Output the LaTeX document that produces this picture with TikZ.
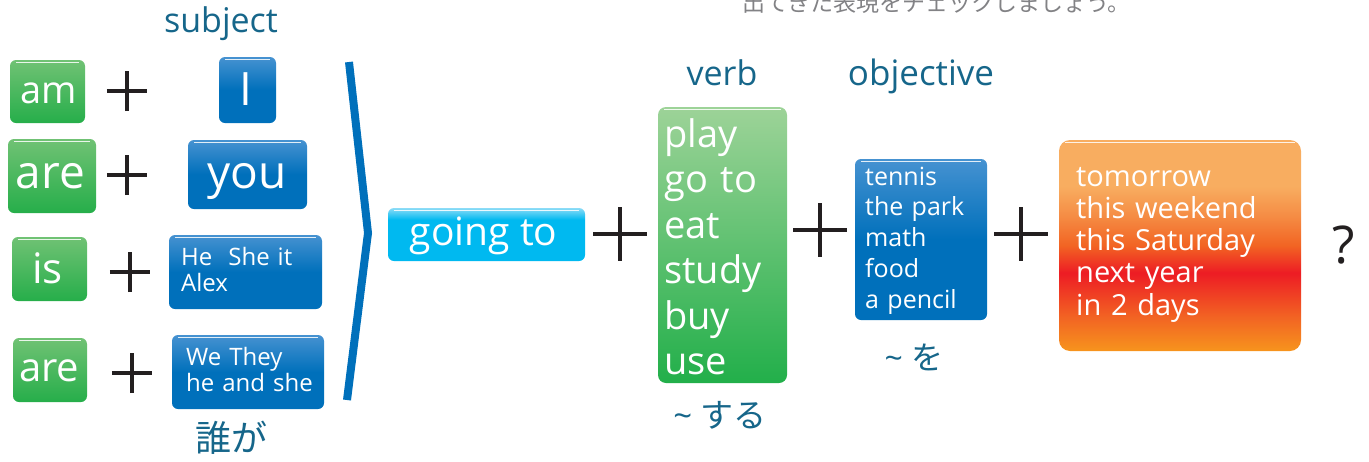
\documentclass[tikz,border=0pt]{standalone}
\usepackage{fontspec}
\setmainfont{Open Sans}
\newfontfamily\jp{Noto Sans CJK JP}
\usetikzlibrary{shapes.misc}
\definecolor{gTop}{RGB}{112,194,116}
\definecolor{gBot}{RGB}{38,174,74}
\definecolor{vTop}{RGB}{157,211,152}
\definecolor{vBot}{RGB}{34,175,74}
\definecolor{bTop}{RGB}{70,146,209}
\definecolor{bBot}{RGB}{0,112,187}
\definecolor{cyTop}{RGB}{140,220,247}
\definecolor{cyMain}{RGB}{0,185,240}
\definecolor{oTop}{RGB}{248,173,96}
\definecolor{oMid}{RGB}{245,140,68}
\definecolor{oRed}{RGB}{237,28,36}
\definecolor{oLow}{RGB}{242,100,35}
\definecolor{oBot}{RGB}{247,148,29}
\definecolor{tealtxt}{RGB}{22,102,138}
\definecolor{plusk}{RGB}{35,31,32}
\definecolor{topgrey}{RGB}{130,130,133}
\pgfdeclareverticalshading{shGreen}{100bp}{color(0bp)=(gBot); color(25bp)=(gBot); color(75bp)=(gTop); color(100bp)=(gTop)}
\pgfdeclareverticalshading{shVerb}{100bp}{color(0bp)=(vBot); color(25bp)=(vBot); color(75bp)=(vTop); color(100bp)=(vTop)}
\pgfdeclareverticalshading{shBlue}{100bp}{color(0bp)=(bBot); color(25bp)=(bBot); color(50bp)=(bBot); color(75bp)=(bTop); color(100bp)=(bTop)}
\pgfdeclareverticalshading{shCyan}{100bp}{color(0bp)=(cyMain); color(25bp)=(cyMain); color(64bp)=(cyMain); color(75bp)=(cyTop); color(100bp)=(cyTop)}
\pgfdeclareverticalshading{shTime}{100bp}{color(0bp)=(oBot); color(25bp)=(oBot); color(33bp)=(oLow); color(43.5bp)=(oRed); color(50bp)=(oLow); color(57bp)=(oMid); color(64bp)=(oTop); color(100bp)=(oTop)}
\tikzset{
  gbox/.style={rounded corners=6pt, inner sep=0pt, shading=shGreen},
  vbox/.style={rounded corners=8pt, inner sep=0pt, shading=shVerb},
  bbox/.style={rounded corners=6pt, inner sep=0pt, shading=shBlue},
  cbox/.style={rounded corners=6pt, inner sep=0pt, shading=shCyan},
  tbox/.style={rounded corners=11pt, inner sep=0pt, shading=shTime},
  wt/.style={text=white, inner sep=0pt},
  lab/.style={text=tealtxt, inner sep=0pt},
  smallplus/.style={cross out, draw=plusk, rotate=45, minimum size=24.7pt, inner sep=0pt, line width=3.8pt},
  bigplus/.style={cross out, draw=plusk, rotate=45, minimum size=33pt, inner sep=0pt, line width=4.6pt},
  hl/.style={white, line width=1.4pt, opacity=0.85},
  bracketline/.style={draw=bBot, line width=8pt, miter limit=20}
}
\begin{document}
\begin{tikzpicture}[x=1pt,y=-1pt]
\useasboundingbox (0,0) rectangle (1369,461);
\clip (0,0) rectangle (1369,461);
% top (cut) text
\node[anchor=base, text=topgrey, inner sep=0pt, font=\jp\fontsize{23}{23}\selectfont] (toptxt) at (936.5,11) {出てきた表現をチェックしましょう。};
% labels
\node[lab, anchor=base, font=\fontsize{34}{34}\selectfont] (subj) at (221,32) {subject};
\node[lab, anchor=base, font=\fontsize{34}{34}\selectfont] (verblab) at (722,85) {verb};
\node[lab, anchor=base, font=\fontsize{35}{35}\selectfont] (objlab) at (921,85) {objective};
% left green boxes
\node[gbox, minimum width=75pt, minimum height=63pt] (am) at (47.5,91.5) {};
\node[gbox, minimum width=88pt, minimum height=74pt] (are) at (52,176) {};
\node[gbox, minimum width=75pt, minimum height=64pt] (is) at (49.5,269) {};
\node[gbox, minimum width=74pt, minimum height=64pt] (aretwo) at (50,370) {};
\node[wt, anchor=base, font=\fontsize{38}{38}\selectfont] (amtxt) at (48.5,103) {am};
\node[wt, anchor=base, font=\fontsize{46}{46}\selectfont] (aretxt) at (50.5,188) {are};
\node[wt, anchor=base, font=\fontsize{42}{42}\selectfont] (istxt) at (47.5,283) {is};
\node[wt, anchor=base, font=\fontsize{40}{40}\selectfont] (aretwotxt) at (49.3,381.7) {are};
% pluses left
\node[smallplus] (p1) at (127,91) {};
\node[smallplus] (p2) at (127,175) {};
\node[smallplus] (p3) at (130,272) {};
\node[smallplus] (p4) at (132,373) {};
% blue subject boxes
\node[bbox, minimum width=57pt, minimum height=66pt] (I) at (247.5,90) {};
\node[bbox, minimum width=119pt, minimum height=69pt] (you) at (247.5,174.5) {};
\node[bbox, minimum width=153pt, minimum height=74pt] (he) at (245.5,272) {};
\node[bbox, minimum width=152pt, minimum height=74pt] (we) at (248,372) {};
\node[wt, anchor=base, font=\fontsize{46}{46}\selectfont] (Itxt) at (246,105) {I};
\node[wt, anchor=base, font=\fontsize{46}{46}\selectfont] (youtxt) at (246.7,188) {you};
\node[wt, anchor=base west, text width=140pt, align=left, font=\fontsize{24}{26.7}\selectfont] (hetxt) at (181,265) {He\ \ She it\\Alex};
\node[wt, anchor=base west, text width=140pt, align=left, font=\fontsize{24}{26}\selectfont] (wetxt) at (186,365.7) {We They\\he and she};
\node[lab, font=\jp\fontsize{36}{36}\selectfont] (dare) at (231,438) {誰が};
% bracket
\coordinate (b1) at (349,62);
\coordinate (b2) at (368,233);
\coordinate (b3) at (347,400);
\draw[bracketline] (b1) -- (b2) -- (b3);
% going to
\node[cbox, minimum width=197pt, minimum height=53pt] (going) at (486.5,234.5) {};
\node[wt, anchor=base, font=\fontsize{39}{39}\selectfont] (goingtxt) at (483.7,245) {going to};
\node[bigplus] (p5) at (620,234) {};
% verb
\node[vbox, minimum width=129pt, minimum height=276pt] (verb) at (722.5,245) {};
\node[wt, anchor=base west, text width=125pt, align=left, font=\fontsize{38}{45.5}\selectfont] (verbtxt) at (664,147) {play\\go to\\eat\\study\\buy\\use};
\node[lab, font=\fontsize{33}{33}\selectfont] (suru) at (720,415) {\textasciitilde\ {\jp する}};
\node[bigplus] (p6) at (820,230) {};
% objective
\node[bbox, minimum width=132pt, minimum height=161pt] (obj) at (921,239.5) {};
\node[wt, anchor=base west, text width=125pt, align=left, font=\fontsize{25}{30.8}\selectfont] (objtxt) at (865,185) {tennis\\the park\\math\\food\\a pencil};
\node[lab, font=\fontsize{32}{32}\selectfont] (wo) at (914,357) {\textasciitilde\ {\jp を}};
\node[bigplus] (p7) at (1021,234) {};
% time
\node[tbox, minimum width=242pt, minimum height=211pt] (time) at (1180,245.5) {};
\node[wt, anchor=base west, text width=220pt, align=left, font=\fontsize{29}{32.3}\selectfont] (timetxt) at (1076,186) {tomorrow\\this weekend\\this Saturday\\next year\\in 2 days};
\node[text=plusk, anchor=base, inner sep=0pt, font=\fontsize{52}{52}\selectfont] (qm) at (1344,263) {?};
% highlights
\foreach \b in {am,are,is,aretwo,I,you,he,we,going,verb,obj,time}
  \draw[hl] ([xshift=6pt,yshift=-2.5pt]\b.north west) -- ([xshift=-6pt,yshift=-2.5pt]\b.north east);
\end{tikzpicture}
\end{document}
